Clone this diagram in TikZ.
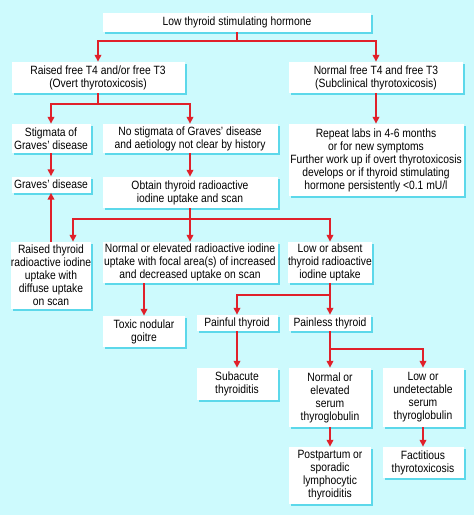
\documentclass[tikz,border=0pt]{standalone}
\usepackage{fontspec}
\setmainfont{Liberation Sans}[FakeStretch=0.86]
\usetikzlibrary{arrows.meta,shadows,calc}
\definecolor{bgc}{HTML}{CDFAFD}
\definecolor{shc}{HTML}{5CD8EA}
\definecolor{arc}{HTML}{E0202A}
\begin{document}
\begin{tikzpicture}[x=1pt,y=-1pt,
  box/.style={draw=none,fill=white,inner sep=0pt,align=center,
    font=\fontsize{12}{13}\selectfont,
    general shadow={fill=shc,shadow xshift=2pt,shadow yshift=-2pt}},
  arr/.style={draw=arc,line width=2pt,-{Triangle[length=7pt,width=6.5pt]}},
  ln/.style={draw=arc,line width=2pt}]
\fill[bgc] (0,0) rectangle (474,515);
\useasboundingbox (0,0) rectangle (474,515);
\node[box,minimum width=268,minimum height=19] (top) at (237,22.5) {Low thyroid stimulating hormone};
\node[box,minimum width=173,minimum height=31] (raised) at (98,77.5) {Raised free T4 and/or free T3\\(Overt thyrotoxicosis)};
\node[box,minimum width=174,minimum height=31] (normal) at (376,77.5) {Normal free T4 and free T3\\(Subclinical thyrotoxicosis)};
\node[box,minimum width=79,minimum height=29] (stig) at (51,138.5) {Stigmata of\\Graves' disease};
\node[box,minimum width=175,minimum height=29] (nostig) at (190,138.5) {No stigmata of Graves' disease\\and aetiology not clear by history};
\node[box,minimum width=175,minimum height=72] (repeat) at (376,160) {Repeat labs in 4-6 months\\or for new symptoms\\Further work up if overt thyrotoxicosis\\develops or if thyroid stimulating\\hormone persistently <0.1 mU/l};
\node[box,minimum width=79,minimum height=16] (graves) at (51,184.5) {Graves' disease};
\node[box,minimum width=175,minimum height=31] (obtain) at (190,192.5) {Obtain thyroid radioactive\\iodine uptake and scan};
\node[box,minimum width=79,minimum height=67] (raisedth) at (51,275.5) {Raised thyroid\\radioactive iodine\\uptake with\\diffuse uptake\\on scan};
\node[box,minimum width=175,minimum height=41] (normel) at (190,262.5) {Normal or elevated radioactive iodine\\uptake with focal area(s) of increased\\and decreased uptake on scan};
\node[box,minimum width=81,minimum height=41] (lowabs) at (330,262.5) {Low or absent\\thyroid radioactive\\iodine uptake};
\node[box,minimum width=82,minimum height=31] (toxic) at (144,331.5) {Toxic nodular\\goitre};
\node[box,minimum width=81,minimum height=16] (painful) at (237,323) {Painful thyroid};
\node[box,minimum width=82,minimum height=16] (painless) at (330,323) {Painless thyroid};
\node[box,minimum width=81,minimum height=32] (subacute) at (237,384) {Subacute\\thyroiditis};
\node[box,minimum width=82,minimum height=59] (normser) at (330,397.5) {Normal or\\elevated\\serum\\thyroglobulin};
\node[box,minimum width=81,minimum height=59] (lowser) at (423,397.5) {Low or\\undetectable\\serum\\thyroglobulin};
\node[box,minimum width=82,minimum height=57] (postp) at (330,475.5) {Postpartum or\\sporadic\\lymphocytic\\thyroiditis};
\node[box,minimum width=81,minimum height=31] (fact) at (423,462.5) {Factitious\\thyrotoxicosis};
% connectors
\coordinate (j1) at ($(top.south)+(0,9)$);
\coordinate (j2) at ($(raised.south)+(0,11)$);
\coordinate (j3) at ($(obtain.south)+(0,11)$);
\coordinate (j4) at ($(lowabs.south)+(0,12)$);
\coordinate (j5) at ($(painless.south)+(0,18)$);
\coordinate (rt) at ($(raisedth.north)+(22,0)$);
\draw[ln] (top.south) -- (j1);
\draw[arr] (j1) -| (raised.north);
\draw[arr] (j1) -| (normal.north);
\draw[ln] (raised.south) -- (j2);
\draw[arr] (j2) -| (stig.north);
\draw[arr] (j2) -| (nostig.north);
\draw[arr] (normal.south) -- (repeat.north);
\draw[arr] (stig.south) -- (graves.north);
\draw[arr] (nostig.south) -- (obtain.north);
\draw[ln] (obtain.south) -- (j3);
\draw[arr] (j3) -| (rt);
\draw[arr] (j3) -- (normel.north);
\draw[arr] (j3) -| (lowabs.north);
\draw[arr] (raisedth.north) -- (graves.south);
\draw[arr] (toxic.north |- normel.south) -- (toxic.north);
\draw[ln] (lowabs.south) -- (j4);
\draw[arr] (j4) -| (painful.north);
\draw[arr] (j4) -- (painless.north);
\draw[arr] (painful.south) -- (subacute.north);
\draw[ln] (painless.south) -- (j5);
\draw[arr] (j5) -- (normser.north);
\draw[arr] (j5) -| (lowser.north);
\draw[arr] (normser.south) -- (postp.north);
\draw[arr] (lowser.south) -- (fact.north);
\end{tikzpicture}
\end{document}
